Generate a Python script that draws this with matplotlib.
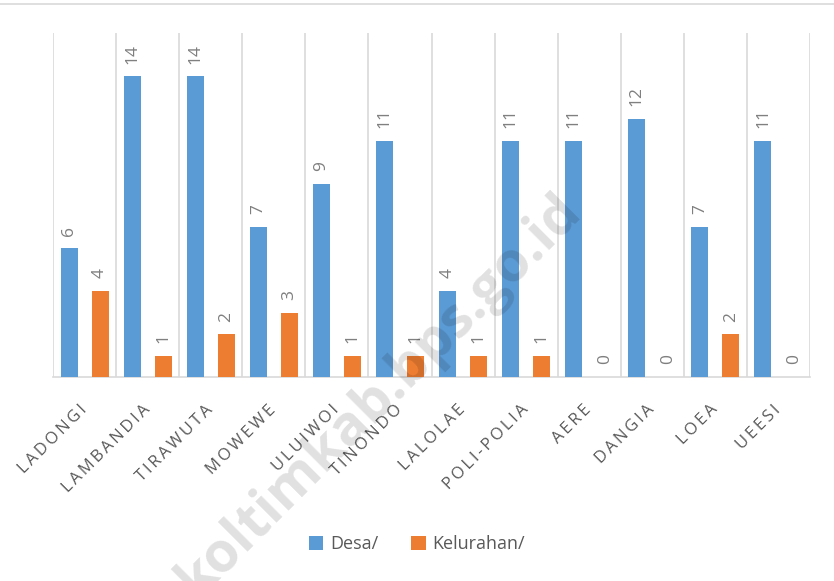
import matplotlib.pyplot as plt
import numpy as np
from matplotlib.lines import Line2D

categories = ["LADONGI", "LAMBANDIA", "TIRAWUTA", "MOWEWE", "ULUIWOI", "TINONDO",
              "LALOLAE", "POLI-POLIA", "AERE", "DANGIA", "LOEA", "UEESI"]
desa = [6, 14, 14, 7, 9, 11, 4, 11, 11, 12, 7, 11]
kelurahan = [4, 1, 2, 3, 1, 1, 1, 1, 0, 0, 2, 0]

BLUE = "#5B9BD5"
ORANGE = "#ED7D31"
GRID = "#D9D9D9"
TEXT = "#595959"
LABEL = "#7F7F7F"

plt.rcParams["font.family"] = ["Open Sans", "DejaVu Sans"]

fig = plt.figure(figsize=(8.34, 5.81), dpi=100)
ax = fig.add_axes([53 / 834, 1 - 377 / 581, 757 / 834, 344 / 581])

x = np.arange(len(categories))
w = 0.27
off = 0.246
b1 = ax.bar(x - off, desa, w, color=BLUE, label="Desa/", zorder=3)
b2 = ax.bar(x + off, kelurahan, w, color=ORANGE, label="Kelurahan/", zorder=3)

for bars in (b1, b2):
    for rect in bars:
        h = rect.get_height()
        ax.annotate(f"{int(h)}", (rect.get_x() + rect.get_width() / 2, h),
                    xytext=(0, 9), textcoords="offset points", rotation=90,
                    ha="center", va="bottom", fontsize=12.5, color=LABEL)

ax.set_xlim(-0.5, len(categories) - 0.5)
ax.set_ylim(0, 16)
ax.set_yticks([])
ax.set_xticks(x)
spaced = ["\u2009".join(c) for c in categories]
ax.set_xticklabels(spaced, rotation=45, ha="right", va="center", rotation_mode="anchor",
                   fontsize=12, color=TEXT)
ax.tick_params(axis="x", length=0, pad=22)
ax.set_xticks(np.arange(-0.5, len(categories)), minor=True)
ax.tick_params(axis="x", which="minor", length=0)
ax.grid(axis="x", which="minor", color=GRID, lw=1.2, zorder=0)
for s in ["top", "left", "right"]:
    ax.spines[s].set_visible(False)
ax.spines["bottom"].set_color(GRID)
ax.spines["bottom"].set_linewidth(1.2)

fig.add_artist(Line2D([0, 1], [1 - 4 / 581, 1 - 4 / 581], color=GRID, lw=1.2,
                      transform=fig.transFigure))

fig.legend(loc="center", bbox_to_anchor=(0.5, 1 - 544 / 581), ncol=2, frameon=False,
           fontsize=13, labelcolor=TEXT, handlelength=0.8, handleheight=0.8,
           handletextpad=0.4, columnspacing=1.8)

fig.text(0.455, 0.32, "koltimkab.bps.go.id", rotation=45, fontsize=40, fontweight="bold",
         color="#000000", alpha=0.12, ha="center", va="center")

fig.savefig("out.png", dpi=100)
